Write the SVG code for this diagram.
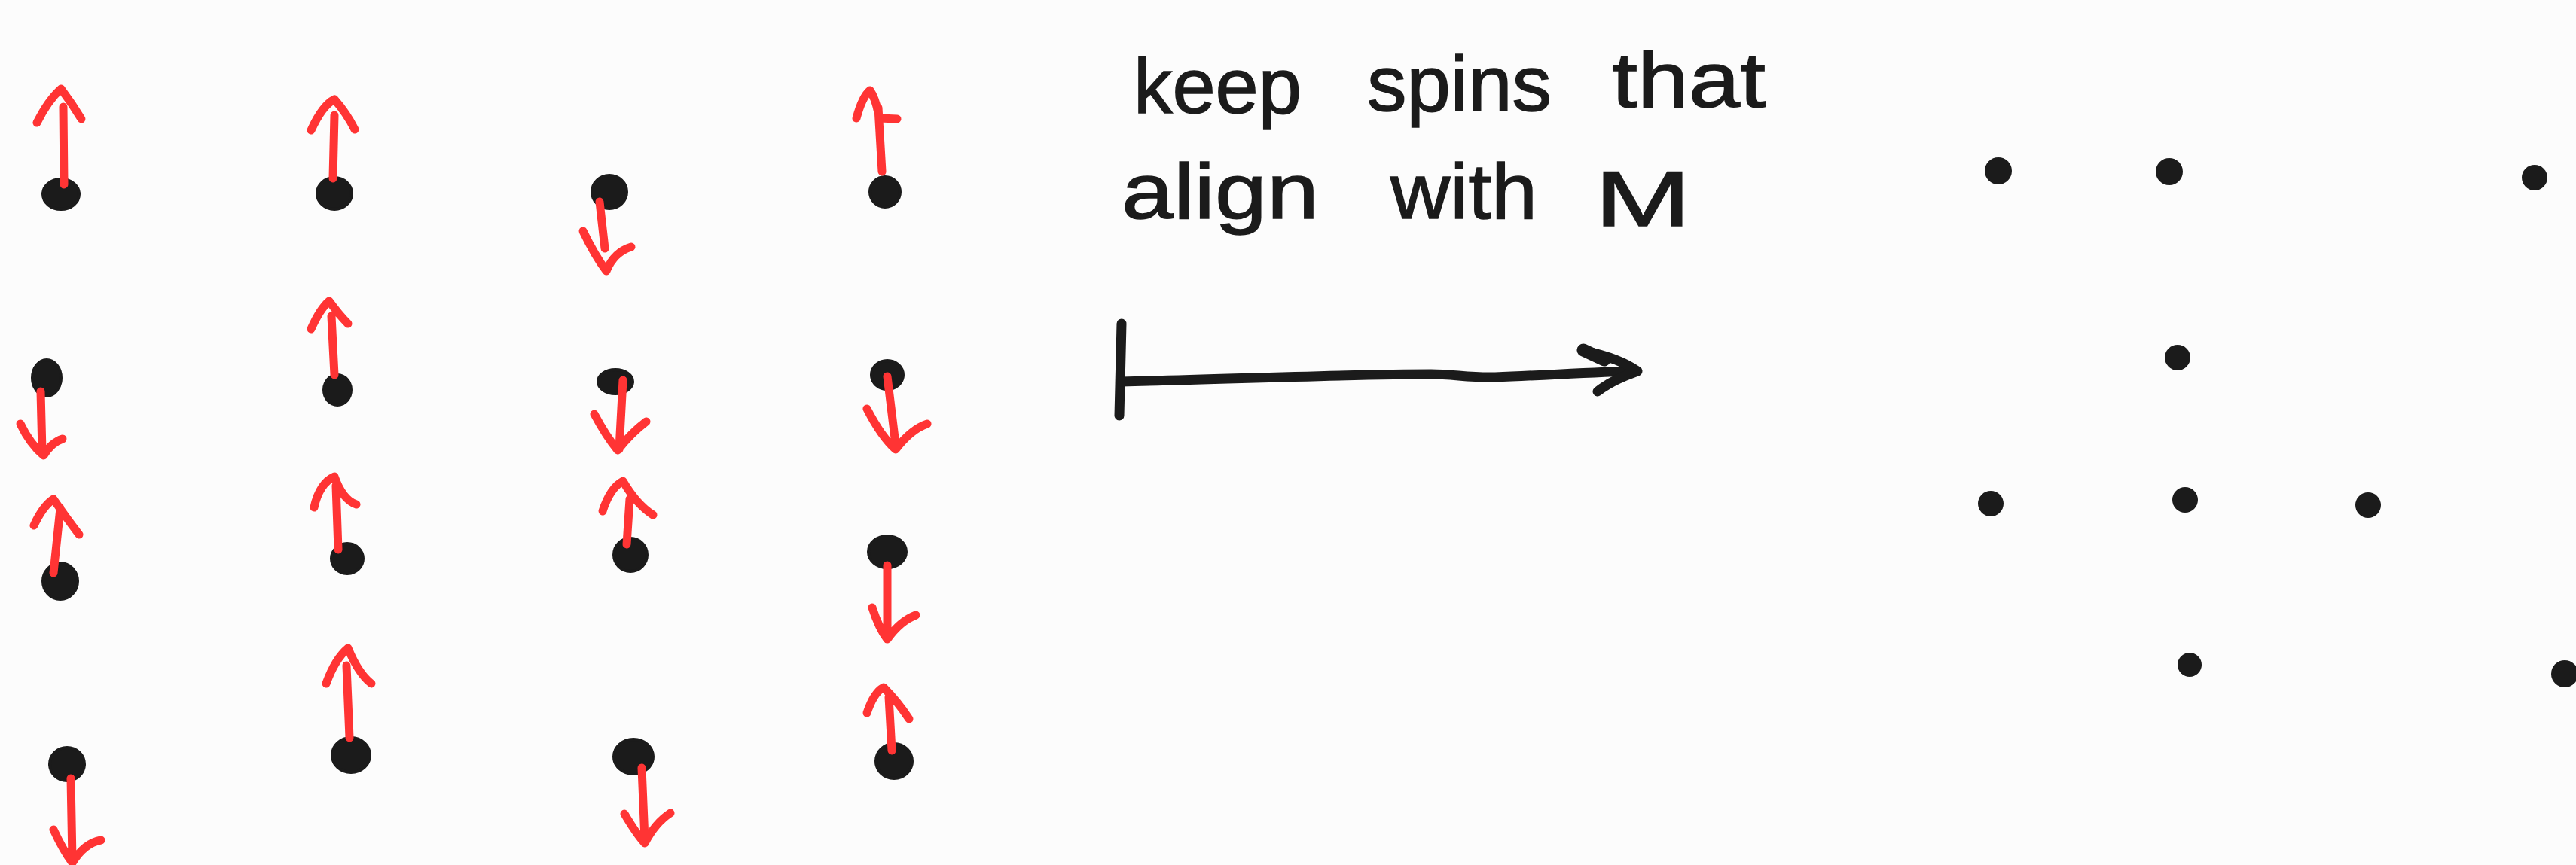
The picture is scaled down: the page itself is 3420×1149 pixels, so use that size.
<svg xmlns="http://www.w3.org/2000/svg" width="3420" height="1149" viewBox="0 0 3420 1149">
  <style>
    .dot { fill: #1b1b1b; stroke: #1b1b1b; stroke-width: 4; }
    .pt { fill: #1b1b1b; }
    .spin { fill: none; stroke: #ff3434; stroke-width: 11; stroke-linecap: round; stroke-linejoin: round; }
    .pen { fill: none; stroke: #1b1b1b; stroke-width: 13; stroke-linecap: round; stroke-linejoin: round; }
    .hand { font-family: "Liberation Sans", Arial, sans-serif; font-size: 104px; fill: #1b1b1b; stroke: #1b1b1b; stroke-width: 1.5; }
  </style>
  <rect width="3420" height="1149" fill="#fcfcfc"/>

  <!-- left lattice: spins with their orientation -->
  <g id="spin-a1"><ellipse class="dot" cx="81" cy="258" rx="24" ry="20"/><path class="spin" d="M85,245 L84,142 M49,163 Q64,133 81,118 Q96,138 108,158"/></g>
  <g id="spin-a2"><ellipse class="dot" cx="62" cy="502" rx="19" ry="24"/><path class="spin" d="M54,520 L56,600 M27,563 Q40,590 58,605 Q68,588 83,583"/></g>
  <g id="spin-a3"><ellipse class="dot" cx="80" cy="772" rx="23" ry="24"/><path class="spin" d="M71,761 L80,675 M45,698 Q57,672 71,663 Q86,685 105,710"/></g>
  <g id="spin-a4"><ellipse class="dot" cx="89" cy="1015" rx="23" ry="22"/><path class="spin" d="M94,1034 L96,1142 M71,1102 Q84,1130 96,1146 Q112,1120 134,1116"/></g>

  <g id="spin-b1"><ellipse class="dot" cx="444" cy="257" rx="23" ry="21"/><path class="spin" d="M442,237 L444,153 M413,173 Q428,140 444,132 Q460,150 471,172"/></g>
  <g id="spin-b2"><ellipse class="dot" cx="448" cy="518" rx="18" ry="20"/><path class="spin" d="M444,498 L440,420 M413,437 Q425,410 437,400 Q450,418 462,430"/></g>
  <g id="spin-b3"><ellipse class="dot" cx="461" cy="742" rx="21" ry="20"/><path class="spin" d="M449,730 L446,645 M417,674 Q424,642 444,633 Q455,664 473,670"/></g>
  <g id="spin-b4"><ellipse class="dot" cx="466" cy="1003" rx="25" ry="23"/><path class="spin" d="M464,980 L460,884 M433,908 Q445,875 462,861 Q476,895 493,908"/></g>

  <g id="spin-c1"><ellipse class="dot" cx="809" cy="255" rx="23" ry="22"/><path class="spin" d="M796,268 L803,330 M774,307 Q790,340 805,360 Q815,335 838,328"/></g>
  <g id="spin-c2"><ellipse class="dot" cx="817" cy="507" rx="23" ry="16"/><path class="spin" d="M827,505 L822,597 M789,550 Q805,580 820,598 Q838,575 858,560"/></g>
  <g id="spin-c3"><ellipse class="dot" cx="837" cy="737" rx="22" ry="22"/><path class="spin" d="M832,723 L836,663 M800,679 Q810,648 827,639 Q845,670 867,684"/></g>
  <g id="spin-c4"><ellipse class="dot" cx="841" cy="1005" rx="26" ry="23"/><path class="spin" d="M852,1020 L856,1115 M829,1081 Q845,1108 856,1120 Q870,1093 890,1080"/></g>

  <g id="spin-d1"><ellipse class="dot" cx="1175" cy="255" rx="20" ry="20"/><path class="spin" d="M1171,228 L1166,143 M1137,157 Q1145,128 1155,120 Q1162,130 1166,150 M1168,157 L1191,158"/></g>
  <g id="spin-d2"><ellipse class="dot" cx="1178" cy="498" rx="21" ry="19"/><path class="spin" d="M1178,500 L1189,590 M1151,543 Q1170,580 1189,597 Q1210,570 1231,563"/></g>
  <g id="spin-d3"><ellipse class="dot" cx="1178" cy="733" rx="25" ry="21"/><path class="spin" d="M1178,751 L1178,846 M1158,807 Q1167,835 1178,849 Q1195,825 1216,817"/></g>
  <g id="spin-d4"><ellipse class="dot" cx="1187" cy="1011" rx="24" ry="23"/><path class="spin" d="M1184,997 L1180,926 M1151,947 Q1160,920 1173,913 Q1192,932 1207,955"/></g>

  <!-- caption -->
  <g id="caption" class="hand">
    <text x="1505" y="150" textLength="223" lengthAdjust="spacingAndGlyphs">keep</text>
    <text x="1815" y="147" textLength="245" lengthAdjust="spacingAndGlyphs">spins</text>
    <text x="2140" y="142" textLength="204" lengthAdjust="spacingAndGlyphs">that</text>
    <text x="1489" y="290" textLength="262" lengthAdjust="spacingAndGlyphs">align</text>
    <text x="1846" y="290" textLength="195" lengthAdjust="spacingAndGlyphs">with</text>
    <text x="2117" y="300" textLength="128" lengthAdjust="spacingAndGlyphs">M</text>
  </g>

  <!-- maps-to arrow -->
  <g id="connectors">
    <path class="pen" d="M1489,430 L1486,552"/>
    <path class="pen" d="M1489,507 C1650,503 1800,497 1900,497 C1930,497 1950,502 1985,501 C2060,498 2120,494 2172,493"/>
    <path class="pen" d="M2104,466 Q2150,476 2174,493 Q2140,505 2121,520"/>
    <path class="pen" style="stroke-width:17" d="M2102,465 L2130,478"/>
  </g>

  <!-- right lattice: remaining sites -->
  <g id="site-1"><circle class="pt" cx="2653" cy="227" r="18"/></g>
  <g id="site-2"><circle class="pt" cx="2880" cy="228" r="18"/></g>
  <g id="site-3"><circle class="pt" cx="3365" cy="236" r="17"/></g>
  <g id="site-4"><circle class="pt" cx="2891" cy="475" r="17"/></g>
  <g id="site-5"><circle class="pt" cx="2643" cy="669" r="17"/></g>
  <g id="site-6"><circle class="pt" cx="2901" cy="664" r="17"/></g>
  <g id="site-7"><circle class="pt" cx="3144" cy="671" r="17"/></g>
  <g id="site-8"><circle class="pt" cx="2907" cy="883" r="16"/></g>
  <g id="site-9"><circle class="pt" cx="3405" cy="895" r="18"/></g>
</svg>
